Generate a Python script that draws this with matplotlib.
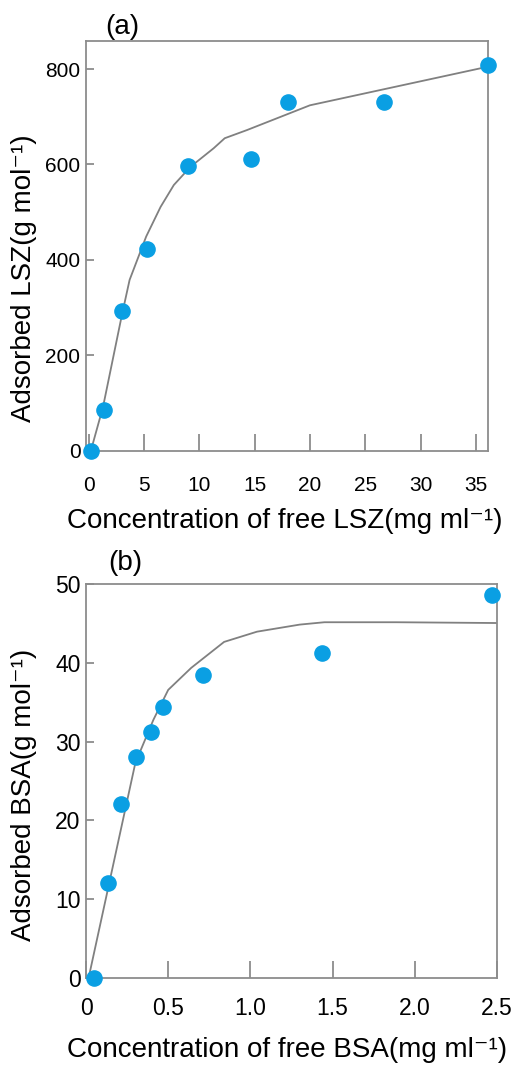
import matplotlib
matplotlib.use("Agg")
import matplotlib.pyplot as plt

plt.rcParams['font.family'] = ['Liberation Sans', 'DejaVu Sans']

# panel (a): LSZ
lsz_x = [0.2, 1.35, 3.0, 5.3, 9.0, 14.7, 18.0, 26.7, 36.1]
lsz_y = [0, 85, 292, 423, 597, 612, 730, 730, 808]
lsz_fit_x = [0.2, 1.3, 3.0, 3.7, 5.2, 6.5, 7.7, 9.2, 11.3, 12.3, 14.3, 20.0, 36.1]
lsz_fit_y = [0, 92, 284, 358, 449, 511, 557, 595, 634, 655, 672, 724, 805]

# panel (b): BSA
bsa_x = [0.05, 0.133, 0.211, 0.302, 0.393, 0.471, 0.714, 1.437, 2.47]
bsa_y = [0, 12.1, 22.1, 28.1, 31.3, 34.4, 38.5, 41.3, 48.6]
bsa_fit_x = [0.016, 0.30, 0.41, 0.50, 0.64, 0.84, 1.04, 1.30, 1.45, 1.89, 2.50]
bsa_fit_y = [0, 27.3, 32.8, 36.6, 39.4, 42.7, 44.0, 44.9, 45.2, 45.2, 45.1]

dot = '#0a9fe3'
grey = '#808080'

fig = plt.figure(figsize=(5.28, 10.66), dpi=100)
ax1 = fig.add_axes([0.1629, 0.5772, 0.7614, 0.3843])
ax2 = fig.add_axes([0.1629, 0.0828, 0.7784, 0.3689])

def style(ax, xpad, size):
    for s in ax.spines.values():
        s.set_color('#8c8c8c')
        s.set_linewidth(1.3)
    ax.tick_params(axis='x', direction='in', length=12, width=1.3, color='#8c8c8c',
                   labelsize=size, pad=xpad)
    ax.tick_params(axis='y', direction='in', length=6, width=1.3, color='#8c8c8c',
                   labelsize=size, pad=4)

ax1.plot(lsz_fit_x, lsz_fit_y, color=grey, lw=1.3, zorder=2)
ax1.scatter(lsz_x, lsz_y, s=120, color=dot, zorder=3, clip_on=False)
ax1.set_xlim(-0.24, 36.1)
ax1.set_ylim(0, 858.7)
ax1.set_xticks([0, 5, 10, 15, 20, 25, 30, 35])
ax1.set_yticks([0, 200, 400, 600, 800])
style(ax1, 18, 15)
ax1.set_xlabel('Concentration of free LSZ(mg ml⁻¹)', fontsize=20)
ax1.set_ylabel('Adsorbed LSZ(g mol⁻¹)', fontsize=20)
ax1.xaxis.set_label_coords(0.495, -0.14)
ax1.yaxis.set_label_coords(-0.122, 0.42)

ax2.plot(bsa_fit_x, bsa_fit_y, color=grey, lw=1.3, zorder=2)
ax2.scatter(bsa_x, bsa_y, s=120, color=dot, zorder=3, clip_on=False)
ax2.set_xlim(0, 2.5)
ax2.set_ylim(0, 50)
ax2.set_xticks([0, 0.5, 1.0, 1.5, 2.0, 2.5])
ax2.set_xticklabels(['0', '0.5', '1.0', '1.5', '2.0', '2.5'])
ax2.set_yticks([0, 10, 20, 30, 40, 50])
style(ax2, 14, 16.5)
ax2.set_xlabel('Concentration of free BSA(mg ml⁻¹)', fontsize=20)
ax2.set_ylabel('Adsorbed BSA(g mol⁻¹)', fontsize=20)
ax2.xaxis.set_label_coords(0.49, -0.151)
ax2.yaxis.set_label_coords(-0.119, 0.466)

fig.text(0.231, 0.9747, '(a)', fontsize=20, ha='center', va='center')
fig.text(0.237, 0.4719, '(b)', fontsize=20, ha='center', va='center')

fig.savefig('out.png', dpi=100)
